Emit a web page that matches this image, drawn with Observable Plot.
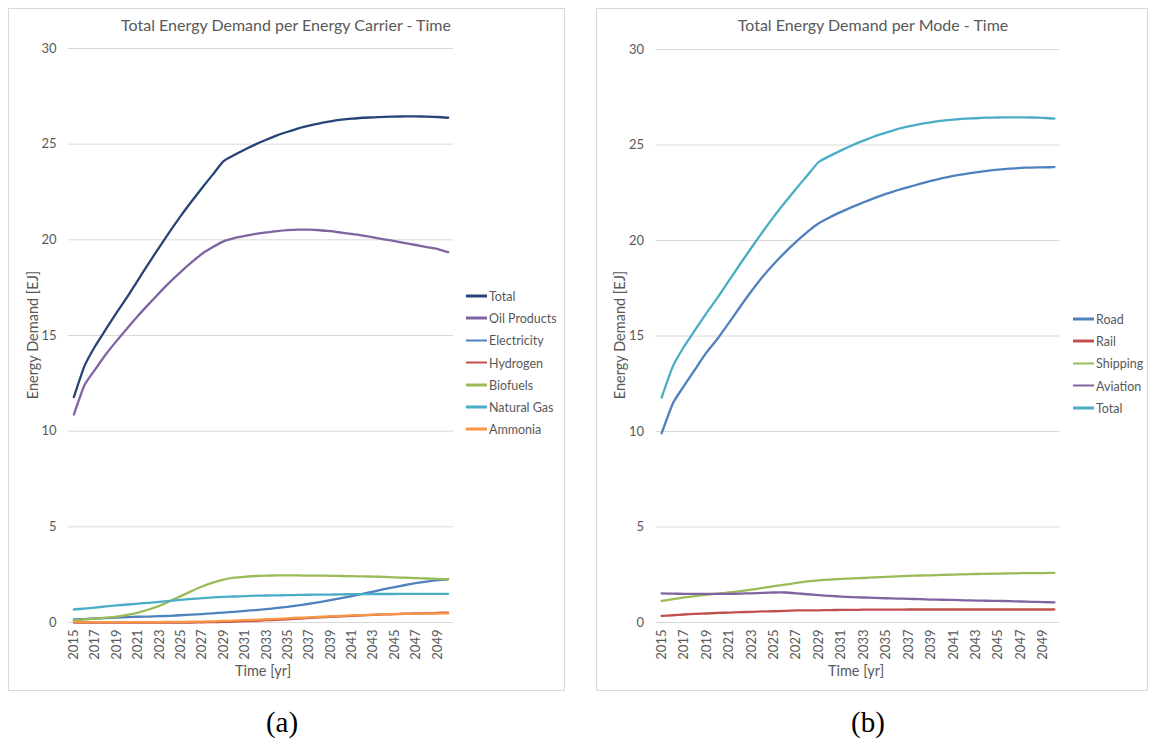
<!DOCTYPE html>
<html>
<head>
<meta charset="utf-8">
<script src="https://cdn.jsdelivr.net/npm/d3@7"></script>
<script src="https://cdn.jsdelivr.net/npm/@observablehq/plot@0.6"></script>
<style>
  html, body { margin: 0; padding: 0; background: #fff; }
  #root { position: relative; width: 1149px; height: 742px; overflow: hidden; font-family: Lato, "Open Sans", sans-serif; color: #595959; }
  .box { position: absolute; border: 1px solid #D9D9D9; box-sizing: border-box; }
  .abs { position: absolute; white-space: nowrap; }
  .title { font-size: 16px; transform: translate(-50%, -50%); }
  .axt { font-size: 14.5px; transform: translate(-50%, -50%); }
  .axty { font-size: 14.5px; transform: translate(-50%, -50%) rotate(-90deg); }
  .cap { font-family: "Liberation Serif", "DejaVu Serif", serif; font-size: 29px; color: #000; transform: translate(-50%, -50%); }
  .leg { font-size: 12.5px; display: flex; align-items: center; transform: translateY(-50%); }
  .leg span.sw { display: inline-block; width: 21px; height: 2.5px; margin-right: 2px; }
  svg { position: absolute; overflow: visible; }
</style>
</head>
<body>
<div id="root"></div>
<script>
// ---------- categories ----------
const years = [2015,2016,2017,2018,2019,2020,2021,2022,2023,2024,2025,2026,2027,2028,2029,2030,2031,2032,2033,2034,2035,2036,2037,2038,2039,2040,2041,2042,2043,2044,2045,2046,2047,2048,2049,2050];
const yearTicks = [2015,2017,2019,2021,2023,2025,2027,2029,2031,2033,2035,2037,2039,2041,2043,2045,2047,2049];
const yTicks = [0,5,10,15,20,25,30];

// ---------- (a) per energy carrier ----------
const total = [11.78,13.41,14.45,15.33,16.2,17.02,17.9,18.77,19.62,20.45,21.25,22.0,22.72,23.42,24.11,24.43,24.72,24.99,25.23,25.46,25.65,25.83,25.97,26.09,26.19,26.28,26.33,26.38,26.4,26.43,26.44,26.45,26.45,26.44,26.42,26.38];
const oilProducts = [10.87,12.41,13.23,14.02,14.72,15.38,16.03,16.64,17.23,17.8,18.33,18.82,19.27,19.62,19.92,20.09,20.21,20.31,20.39,20.46,20.51,20.53,20.53,20.5,20.45,20.38,20.31,20.22,20.13,20.03,19.93,19.83,19.73,19.62,19.52,19.36];
const electricity = [0.16,0.18,0.21,0.23,0.26,0.28,0.3,0.31,0.33,0.35,0.38,0.41,0.44,0.48,0.52,0.56,0.61,0.65,0.7,0.76,0.82,0.9,0.98,1.07,1.17,1.27,1.38,1.5,1.62,1.74,1.85,1.96,2.06,2.14,2.21,2.26];
const hydrogen = [0,0,0,0,0,0,0,0,0,0,0,0,0.01,0.02,0.03,0.05,0.07,0.09,0.12,0.14,0.17,0.2,0.24,0.27,0.3,0.32,0.35,0.38,0.4,0.42,0.44,0.46,0.47,0.49,0.5,0.52];
const biofuels = [0.12,0.16,0.2,0.25,0.31,0.4,0.52,0.68,0.87,1.12,1.38,1.64,1.88,2.08,2.24,2.34,2.39,2.43,2.45,2.46,2.46,2.46,2.45,2.45,2.44,2.43,2.42,2.41,2.4,2.38,2.36,2.34,2.32,2.3,2.28,2.26];
const naturalGas = [0.68,0.73,0.78,0.84,0.89,0.94,0.99,1.03,1.08,1.13,1.18,1.23,1.27,1.31,1.34,1.36,1.38,1.4,1.41,1.42,1.43,1.44,1.45,1.46,1.46,1.47,1.48,1.48,1.49,1.49,1.49,1.5,1.5,1.5,1.5,1.5];
const ammonia = [0.02,0.02,0.02,0.02,0.02,0.02,0.02,0.02,0.02,0.03,0.03,0.04,0.05,0.06,0.08,0.1,0.12,0.14,0.17,0.19,0.22,0.25,0.27,0.3,0.32,0.35,0.37,0.39,0.41,0.43,0.44,0.45,0.46,0.47,0.47,0.48];
const carrierNames = ["Total","Oil Products","Electricity","Hydrogen","Biofuels","Natural Gas","Ammonia"];
const carrierColors = ["#264478","#8064A2","#4F81BD","#C0504D","#9BBB59","#4BACC6","#F79646"];
const carrierSeries = [total, oilProducts, electricity, hydrogen, biofuels, naturalGas, ammonia];

// ---------- (b) per mode ----------
const road = [9.9,11.47,12.39,13.27,14.14,14.87,15.69,16.53,17.34,18.1,18.77,19.38,19.94,20.45,20.9,21.22,21.5,21.76,22.0,22.23,22.44,22.63,22.8,22.96,23.12,23.26,23.38,23.48,23.57,23.65,23.71,23.76,23.8,23.82,23.83,23.84];
const rail = [0.35,0.38,0.42,0.45,0.47,0.5,0.52,0.54,0.56,0.58,0.59,0.61,0.63,0.64,0.64,0.65,0.66,0.66,0.67,0.67,0.67,0.67,0.68,0.68,0.68,0.68,0.68,0.68,0.68,0.68,0.68,0.68,0.68,0.68,0.68,0.68];
const shipping = [1.13,1.22,1.31,1.38,1.45,1.51,1.57,1.64,1.72,1.81,1.9,1.98,2.07,2.15,2.21,2.25,2.28,2.31,2.33,2.36,2.39,2.42,2.44,2.46,2.47,2.49,2.51,2.52,2.54,2.55,2.56,2.57,2.58,2.59,2.59,2.6];
const aviation = [1.52,1.51,1.5,1.5,1.5,1.5,1.5,1.51,1.53,1.55,1.57,1.57,1.53,1.48,1.43,1.39,1.36,1.33,1.31,1.29,1.27,1.25,1.24,1.22,1.2,1.19,1.18,1.16,1.15,1.14,1.13,1.12,1.1,1.08,1.07,1.05];
const modeNames = ["Road","Rail","Shipping","Aviation","Total"];
const modeColors = ["#4F81BD","#C0504D","#9BBB59","#8064A2","#4BACC6"];
const modeSeries = [road, rail, shipping, aviation, total];

const root = document.getElementById("root");
const smooth = d3.curveCardinal.tension(0.45);

function el(cls, text, x, y, extra) {
  const d = document.createElement("div");
  d.className = "abs " + cls;
  d.textContent = text;
  d.style.left = x + "px";
  d.style.top = y + "px";
  if (extra) Object.assign(d.style, extra);
  root.appendChild(d);
  return d;
}

function panel(cfg) {
  const box = document.createElement("div");
  box.className = "box";
  Object.assign(box.style, {left: cfg.box[0] + "px", top: cfg.box[1] + "px", width: cfg.box[2] + "px", height: cfg.box[3] + "px"});
  root.appendChild(box);

  const rows = [];
  cfg.names.forEach((n, i) => cfg.series[i].forEach((v, j) => rows.push({series: n, year: years[j], value: v})));

  const chart = Plot.plot({
    width: cfg.svgW,
    height: cfg.svgH,
    marginLeft: cfg.ml, marginRight: cfg.mr, marginTop: cfg.mt, marginBottom: cfg.mb,
    style: {fontFamily: "Lato, 'Open Sans', sans-serif", fontSize: "13px", color: "#595959", background: "transparent"},
    x: {type: "linear", domain: [2014.5, 2050.5]},
    y: {domain: [0, 30]},
    color: {domain: cfg.names, range: cfg.colors},
    marks: [
      Plot.gridY(yTicks, {stroke: "#D9D9D9", strokeOpacity: 1, strokeWidth: 1}),
      Plot.axisY(yTicks, {tickSize: 0, tickPadding: 12, label: null, fill: "#595959"}),
      Plot.axisX(yearTicks, {tickSize: 0, tickPadding: 7, tickRotate: -90, tickFormat: d => String(d), label: null, fill: "#595959"}),
      Plot.line(rows, {x: "year", y: "value", z: "series", stroke: "series", curve: smooth, strokeWidth: 2.3})
    ]
  });
  chart.style.left = cfg.svgX + "px";
  chart.style.top = "0px";
  root.appendChild(chart);

  el("title", cfg.title, cfg.titleX, 24);
  el("axt", "Time [yr]", cfg.xTitleX, 670);
  el("axty", "Energy Demand [EJ]", cfg.yTitleX, 335);
  cfg.names.forEach((n, i) => {
    const d = el("leg", "", cfg.legX, cfg.legY0 + i * 22.2);
    const sw = document.createElement("span");
    sw.className = "sw";
    sw.style.background = cfg.colors[i];
    d.appendChild(sw);
    d.appendChild(document.createTextNode(n));
  });
  el("cap", cfg.caption, cfg.capX, 722);
}

panel({
  box: [8, 8, 557, 683],
  svgX: 0, svgW: 575, svgH: 700, ml: 68, mr: 122, mt: 48, mb: 78,
  names: carrierNames, colors: carrierColors, series: carrierSeries,
  title: "Total Energy Demand per Energy Carrier - Time", titleX: 286,
  xTitleX: 263, yTitleX: 32, legX: 466, legY0: 296, caption: "(a)", capX: 282
});
panel({
  box: [596, 8, 552, 683],
  svgX: 580, svgW: 569, svgH: 700, ml: 75.5, mr: 89.5, mt: 49, mb: 78,
  names: modeNames, colors: modeColors, series: modeSeries,
  title: "Total Energy Demand per Mode - Time", titleX: 873,
  xTitleX: 856, yTitleX: 619, legX: 1073, legY0: 319, caption: "(b)", capX: 868
});
</script>
</body>
</html>
